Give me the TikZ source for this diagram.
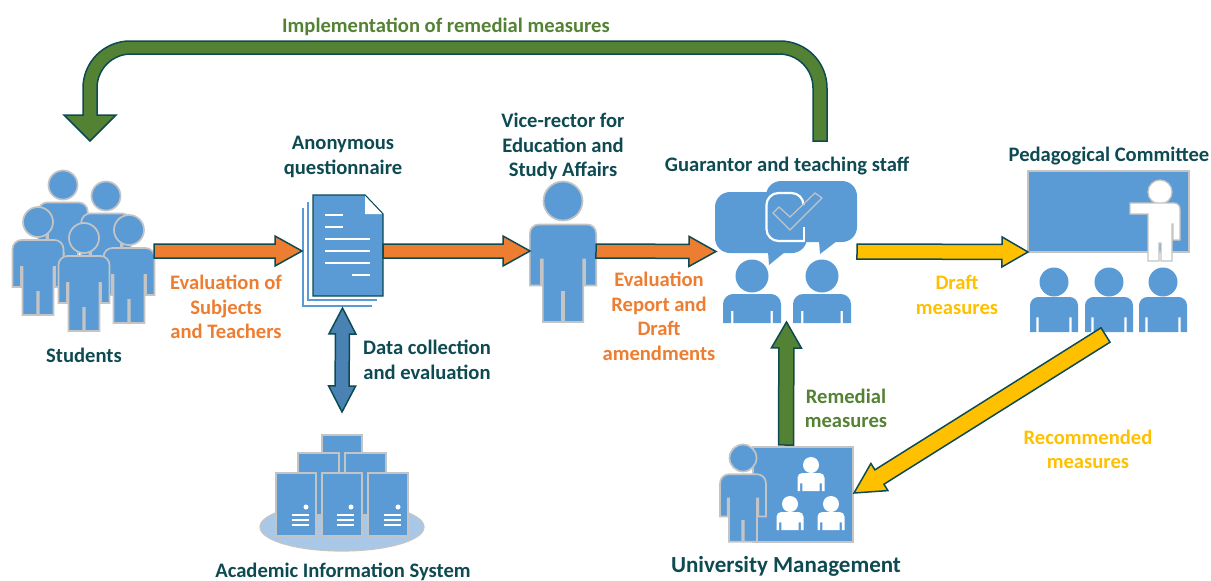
\documentclass[tikz,border=0pt]{standalone}
\usepackage{fontspec}
\setmainfont{Carlito}
\usetikzlibrary{calc}
\definecolor{iconblue}{HTML}{5B9BD5}
\definecolor{iconline}{HTML}{C4C4C4}
\definecolor{teal}{HTML}{0D4A52}
\definecolor{orangeC}{HTML}{ED7D31}
\definecolor{yellowC}{HTML}{FFC000}
\definecolor{greenC}{HTML}{548235}
\definecolor{steelC}{HTML}{4A82B4}
\definecolor{paleblue}{HTML}{A9C8E8}
\newcommand\blockarrow[6]{%
  \draw[#6] let \p1=($(#2)-(#1)$), \n1={atan2(\y1,\x1)}, \n2={veclen(\x1,\y1)} in
    ([shift={(#1)},rotate=\n1]0pt,#3pt)
    -- ([shift={(#1)},rotate=\n1]\n2-#5pt,#3pt)
    -- ([shift={(#1)},rotate=\n1]\n2-#5pt,#4pt)
    -- ([shift={(#1)},rotate=\n1]\n2,0pt)
    -- ([shift={(#1)},rotate=\n1]\n2-#5pt,-#4pt)
    -- ([shift={(#1)},rotate=\n1]\n2-#5pt,-#3pt)
    -- ([shift={(#1)},rotate=\n1]0pt,-#3pt) -- cycle;}
\newcommand\doubleblockarrow[6]{%
  \draw[#6] let \p1=($(#2)-(#1)$), \n1={atan2(\y1,\x1)}, \n2={veclen(\x1,\y1)} in
    ([shift={(#1)},rotate=\n1]0pt,0pt)
    -- ([shift={(#1)},rotate=\n1]#5pt,#4pt)
    -- ([shift={(#1)},rotate=\n1]#5pt,#3pt)
    -- ([shift={(#1)},rotate=\n1]\n2-#5pt,#3pt)
    -- ([shift={(#1)},rotate=\n1]\n2-#5pt,#4pt)
    -- ([shift={(#1)},rotate=\n1]\n2,0pt)
    -- ([shift={(#1)},rotate=\n1]\n2-#5pt,-#4pt)
    -- ([shift={(#1)},rotate=\n1]\n2-#5pt,-#3pt)
    -- ([shift={(#1)},rotate=\n1]#5pt,-#3pt)
    -- ([shift={(#1)},rotate=\n1]#5pt,-#4pt) -- cycle;}
\tikzset{
  x=1pt,y=-1pt,
  arroworange/.style={fill=orangeC,draw=teal,line width=1.5pt,line join=miter},
  arrowyellow/.style={fill=yellowC,draw=teal,line width=1.5pt,line join=miter},
  arrowgreen/.style={fill=greenC,draw=teal,line width=1.5pt,line join=miter},
  arrowsteel/.style={fill=steelC,draw=teal,line width=1.5pt,line join=miter},
  iconbox/.style={inner sep=0pt,outer sep=0pt},
  lbl/.style={font=\fontsize{20.6}{24.5}\selectfont\bfseries,align=center,inner sep=0pt},
  lblteal/.style={lbl,text=teal},
  lblorange/.style={lbl,text=orangeC},
  lblyellow/.style={lbl,text=yellowC},
  lblgreen/.style={lbl,text=greenC},
  pics/person/.style={code={
    \path[fill=iconblue,draw=iconline,line width=1.7pt] (0,0) circle[radius=15];
    \path[fill=iconblue,draw=iconline,line width=1.7pt,line join=miter]
      (-25.5,65) [rounded corners=9pt] -- (-25.5,18) -- (25.5,18) [sharp corners] -- (25.5,65)
      -- (17,65) -- (17,45) -- (15.5,45) -- (15.5,93) -- (0.8,93) -- (0.8,70) -- (-0.8,70)
      -- (-0.8,93) -- (-15.5,93) -- (-15.5,45) -- (-17,45) -- (-17,65) -- cycle;
  }},
  pics/bust/.style n args={5}{code={
    \pgfmathsetmacro\slitA{#5*0.64}
    \pgfmathsetmacro\slitB{\slitA+2.2}
    \pgfmathsetmacro\slitY{#4-(#4-#3)*0.42}
    \pgfmathsetmacro\bustR{#5*0.35}
    \fill[#1] (0,0) circle[radius=#2];
    \fill[#1] (-#5,#4) [rounded corners=\bustR pt] -- (-#5,#3) -- (#5,#3) [sharp corners] -- (#5,#4)
      -- (\slitB,#4) -- (\slitB,\slitY) -- (\slitA,\slitY) -- (\slitA,#4) -- (-\slitA,#4)
      -- (-\slitA,\slitY) -- (-\slitB,\slitY) -- (-\slitB,#4) -- cycle;
  }},
}
\begin{document}
\begin{tikzpicture}
\useasboundingbox (0,0) rectangle (1211,581);
% icon anchors
\node[iconbox,minimum width=142pt,minimum height=160pt] (students) at (83,251) {};
\node[iconbox,minimum width=81pt,minimum height=112pt] (quest) at (342.5,251) {};
\node[iconbox,minimum width=66pt,minimum height=140pt] (vice) at (563,251) {};
\node[iconbox,minimum width=141pt,minimum height=141pt] (guar) at (786.5,251.5) {};
\node[iconbox,minimum width=161pt,minimum height=162pt] (ped) at (1108.5,252) {};
\node[iconbox,minimum width=136pt,minimum height=96pt] (uni) at (786,493) {};
\node[iconbox,minimum width=132pt,minimum height=116pt] (server) at (342,493) {};
\coordinate (curveStart) at (820,141);
\coordinate (curveEnd) at (90,141);
\coordinate (curveTop) at (450,47.5);
% students
\pic[scale=.97] at (63,185) {person};
\pic[scale=.97] at (106,196) {person};
\pic at (38,222) {person};
\pic at (129,230) {person};
\pic at (84,238) {person};
% questionnaire
\draw[iconblue,line width=1.8pt] (303,208) -- (303,306) -- (372,306);
\draw[iconblue,line width=1.8pt] (308,202) -- (308,300) -- (377,300);
\draw[fill=iconblue,draw=teal,line width=1.3pt] (313,195) -- (365,195) -- (383,214) -- (383,296) -- (313,296) -- cycle;
\fill[white] (365,195.8) -- (382.2,214) -- (365,214) -- cycle;
\foreach \ya/\xa/\xb in {215/325/343,227/325/343,239/325/370,251/325/370,263/325/370,275/352/370}
  \draw[white,line width=1.6pt] (\xa,\ya) -- (\xb,\ya);
% vice-rector
\pic[scale=1.3] at (563,201) {person};
% guarantor
\fill[iconblue,rounded corners=15pt] (715,192) rectangle (807,253);
\fill[iconblue] (768,252) -- (769,265) -- (785,252) -- cycle;
\fill[iconblue,rounded corners=15pt] (766,181) rectangle (857,242);
\fill[iconblue] (819,241) -- (820,254) -- (837,241) -- cycle;
\draw[white,line width=2.2pt,rounded corners=12pt] (803.5,203) -- (803.5,193) -- (766.5,193) -- (766.5,241) -- (804,241);
\draw[white,line width=2.2pt] (804,241.5) -- (804,227);
\draw[iconline,line width=1.2pt,line join=miter] (773,213) -- (790,230) -- (822,198) -- (815,193) -- (790,217) -- (779,207) -- cycle;
\pic at (752,276) {bust={iconblue}{16.5}{18}{47}{29}};
\pic at (822,276) {bust={iconblue}{16.5}{18}{47}{29}};
% pedagogical committee
\draw[fill=iconblue,draw=iconline,line width=1.5pt] (1028,171) rectangle (1189,252);
\draw[fill=white,draw=iconline,line width=1.3pt] (1160,192) circle[radius=12];
\draw[fill=white,draw=iconline,line width=1.3pt,line join=miter]
  (1130,203) [rounded corners=6pt] -- (1180,203) [sharp corners] -- (1180,240) -- (1173,240) -- (1173,224)
  -- (1172,224) -- (1172,261) -- (1161,261) -- (1161,243) -- (1159,243) -- (1159,261) -- (1148,261) -- (1148,214) -- (1130,214) -- cycle;
\pic at (1054,282) {bust={iconblue}{14.5}{15}{50}{24}};
\pic at (1109,282) {bust={iconblue}{14.5}{15}{50}{24}};
\pic at (1163,282) {bust={iconblue}{14.5}{15}{50}{24}};
% server
\draw[fill=paleblue,draw=iconline,line width=1.2pt] (342,527) ellipse[x radius=82,y radius=24];
\foreach \xa/\ya/\xb/\yb in {322/435/362/500,298/453/339/515,345/453/386/515,276/473/316/536,322/473/362/536,368/473/408/536}
  \draw[fill=iconblue,draw=iconline,line width=1.5pt] (\xa,\ya) rectangle (\xb,\yb);
\foreach \xo in {276,321,368}{
  \fill[white] (\xo+30,507) circle[radius=2.5];
  \foreach \yo in {515,520,525} \draw[white,line width=1.1pt] (\xo+16,\yo) -- (\xo+33,\yo);
}
% university management
\draw[fill=iconblue,draw=iconline,line width=1.5pt] (753,447) rectangle (853,542);
\pic[scale=.9] at (743,458) {person};
\pic at (811,465) {bust={white}{8}{8}{26}{13.5}};
\pic at (790,504) {bust={white}{8}{8}{26}{13.5}};
\pic at (831,504) {bust={white}{8}{8}{26}{13.5}};
% block arrows
\blockarrow{students.east}{quest.west}{7}{15}{27}{arroworange}
\blockarrow{quest.east}{vice.west}{7}{15}{27}{arroworange}
\blockarrow{vice.east}{guar.west}{7}{15}{27}{arroworange}
\blockarrow{guar.east}{ped.west}{7.5}{15}{26}{arrowyellow}
\blockarrow{uni.north}{guar.south}{7.5}{15}{26}{arrowgreen}
\blockarrow{$(ped.south)+(-3,2)$}{uni.east}{8.5}{16}{30}{arrowyellow}
\doubleblockarrow{$(quest.south)+(0,1)$}{$(server.north)+(0,-23)$}{7}{13.5}{26}{arrowsteel}
% curved return arrow
\draw[arrowgreen] let \p1=(curveStart), \p2=(curveEnd), \p3=(curveTop) in
  (\x1-7pt,\y1) [rounded corners=34pt] -- (\x1-7pt,\y3-6.5pt) -- (\x2+7pt,\y3-6.5pt) [sharp corners]
  -- (\x2+7pt,\y2+26pt) -- (\x2+26pt,\y2+26pt) -- (\x2,\y2) -- (\x2-26pt,\y2+26pt) -- (\x2-7pt,\y2+26pt)
  [rounded corners=47pt] -- (\x2-7pt,\y3+6.5pt) -- (\x1+7pt,\y3+6.5pt) [sharp corners] -- (\x1+7pt,\y1) -- cycle;
% labels
\node[lblgreen] (tImpl) at (446,26.5) {Implementation of remedial measures};
\node[lblteal] (tStud) at (84,355) {Students};
\node[lblteal] (tAnon) at (343,157) {Anonymous\\questionnaire};
\node[lblteal] (tVice) at (563,146.5) {Vice-rector for\\Education and\\Study Affairs};
\node[lblteal] (tGuar) at (787,166) {Guarantor and teaching staff};
\node[lblteal] (tPed) at (1109,156) {Pedagogical Committee};
\node[lblorange] (tEval) at (226,307) {Evaluation of\\Subjects\\and Teachers};
\node[lblteal] (tData) at (427,360) {Data collection\\and evaluation};
\node[lblorange] (tRep) at (659,316.5) {Evaluation\\Report and\\Draft\\amendments};
\node[lblyellow] (tDraft) at (957,295) {Draft\\measures};
\node[lblgreen] (tRem) at (846,408.5) {Remedial\\measures};
\node[lblyellow] (tRec) at (1088,449.5) {Recommended\\measures};
\node[lblteal] (tAcad) at (343,571.5) {Academic Information System};
\node[lblteal,font=\fontsize{23}{24.5}\selectfont\bfseries] (tUni) at (786,566) {University Management};
\end{tikzpicture}
\end{document}
